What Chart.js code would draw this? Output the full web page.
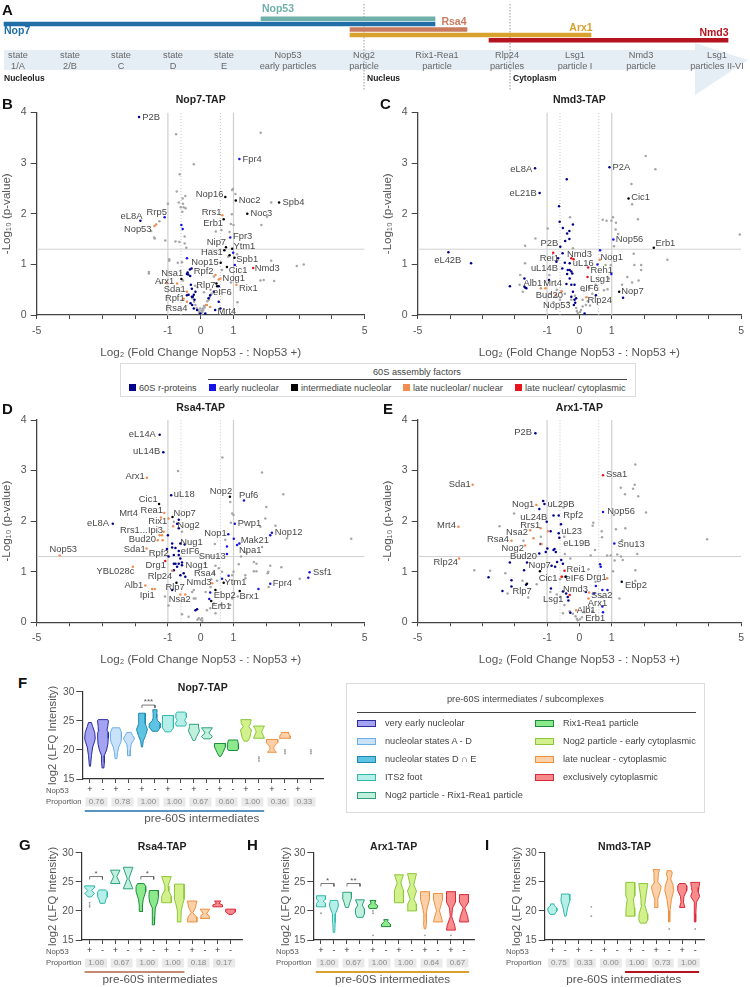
<!DOCTYPE html>
<html>
<head>
<meta charset="utf-8">
<title>pre-60S intermediates</title>
<script src="https://cdn.jsdelivr.net/npm/chart.js@4"></script>
<style>
  html, body { margin: 0; padding: 0; background: #fff; }
  #page { position: relative; width: 750px; height: 987px; overflow: hidden; font-family: "Liberation Sans", Arial, sans-serif; color: #444; }
  canvas { position: absolute; }
  .letter { position: absolute; font-size: 15px; font-weight: bold; color: #111; line-height: 15px; }
  .box { position: absolute; border: 1px solid #dcdcdc; box-sizing: border-box; }
  .rule { position: absolute; height: 1px; background: #444; }
  .txt { position: absolute; white-space: nowrap; line-height: 12px; }
  .swatch { position: absolute; box-sizing: border-box; }
</style>
</head>
<body>
<div id="page">
  <canvas id="chartA" width="750" height="100" style="left:0;top:0"></canvas>
  <canvas id="chartB" width="375" height="270" style="left:0;top:90px"></canvas>
  <canvas id="chartC" width="369" height="270" style="left:381px;top:90px"></canvas>
  <canvas id="chartD" width="375" height="270" style="left:0;top:397px"></canvas>
  <canvas id="chartE" width="369" height="270" style="left:381px;top:397px"></canvas>
  <canvas id="chartF" width="340" height="160" style="left:40px;top:670px"></canvas>
  <canvas id="chartG" width="220" height="157" style="left:40px;top:830px"></canvas>
  <canvas id="chartH" width="225" height="157" style="left:270px;top:830px"></canvas>
  <canvas id="chartI" width="250" height="157" style="left:500px;top:830px"></canvas>
</div>

<script>
// ---------- A: factors along the assembly path ----------
const factorNames = ['Nop53', 'Nop7', 'Rsa4', 'Arx1', 'Nmd3'];
const factorStart = [261, 4, 350, 350, 489];
const factorEnd = [435, 435, 467, 591, 728];
const factorColors = ['#6fb0ab', '#1f6ea8', '#c97b60', '#d9a12e', '#b3141f'];
const stageTop = ['state', 'state', 'state', 'state', 'state', 'Nop53', 'Nog2', 'Rix1-Rea1', 'Rlp24', 'Lsg1', 'Nmd3', 'Lsg1'];
const stageBottom = ['1/A', '2/B', 'C', 'D', 'E', 'early particles', 'particle', 'particle', 'particles', 'particle I', 'particle', 'particles II-VI'];
const stageAt = [18, 70, 121, 173, 224, 288, 364, 437, 507, 575, 641, 717];

// ---------- B: Nop7-TAP volcano ----------
const bNavy = [[-1.88,3.91],[-1.84,1.86],[-.42,.81],[-.38,.8],[-.4,.84],[-.32,.77],[-.3,.6],[-.27,.52],[-.16,.46],[-.37,.4],[-.27,.36],[-.42,.39],[-.21,.4],[-.31,.23],[-.26,.2],[-.21,.13],[-.11,.1],[-.01,.03],[.14,.03],[.24,.33],[.29,.39],[.4,.46],[.55,.57],[.55,.26],[.44,.1],[.6,.13],[-.33,.9],[-.28,.92],[-.24,.36],[-.19,.3]];
const bBlue = [[1.18,3.08],[-1.1,1.93],[.9,1.53],[.99,1.23],[1.04,.99],[-.59,1.78],[-.55,1.7],[-.42,1.12]];
const bBlack = [[2.39,2.22],[1.07,2.26],[1.42,2],[.75,2.33],[.7,1.89],[.77,1.34],[.72,1.28],[.96,1.31],[.88,1.18],[1.03,1.13],[.61,1.03],[.8,.95],[-.59,.71],[.48,.62],[.5,.57]];
const bOrange = [[.66,1.97],[-1.41,1.76],[-1.36,1.79],[-.72,.62],[-1.05,.63],[.45,.79],[.55,.7],[.6,.72],[1.09,.6],[-.42,.46],[.29,.16],[.19,.2],[-.52,.32],[-.42,.26]];
const bRed = [[1.6,.93]];
const bGray = [[1.83,3.6],[-.75,3.57],[-.21,2.98],[-.64,2.78],[.98,2.49],[.96,2.47],[-.73,2.44],[1.06,2.39],[-.47,2.35],[-.55,2.3],[-.67,2.22],[2.15,2.22],[-1,2.2],[-.54,2.2],[-.61,2.13],[-.52,2.13],[-.46,2.11],[-.56,2.04],[.95,1.99],[2.02,1.94],[-1.26,1.85],[.92,1.8],[1,1.78],[1.85,1.78],[-1.51,1.66],[.46,1.65],[.63,1.68],[.88,1.64],[-1.42,1.53],[-1.4,1.51],[-.49,1.55],[-1.08,1.47],[-.77,1.45],[-.65,1.44],[-.49,1.41],[-.44,1.33],[-.96,1.1],[-.96,1.07],[-.7,1.03],[-.57,1.04],[.84,1.15],[1.11,1.2],[2.15,1.07],[2.93,.97],[3.14,1],[-1.58,.85],[-1.58,.82],[1.82,.68],[1.92,.69],[2.24,.67],[1.12,.25],[-1.23,.63],[-.54,.68],[.65,.89],[.4,.76],[.92,.64],[-.05,.04],[.02,.02],[.05,.06],[-.08,.1],[.08,.1],[-.12,.14],[.12,.15],[-.16,.2],[.16,.2],[-.2,.26],[.2,.27],[-.04,.07],[.06,.13],[.25,.3],[.28,.36],[-.25,.33],[.33,.42],[.3,.5],[.1,.45],[-.1,.55],[-.17,.58],[.03,.09],[.1,.18],[-.02,.13]];
const bLabels = [['P2B',-1.51,3.91],['Fpr4',1.57,3.08],['Spb4',2.83,2.22],['Noc2',1.49,2.26],['Noc3',1.85,2],['Nop16',.27,2.39],['Rrs1',.33,2.03],['Erb1',.38,1.81],['Fpr3',1.28,1.55],['Nip7',.48,1.43],['Ytm1',1.33,1.35],['Has1',.34,1.23],['Spb1',1.42,1.09],['Nop15',.13,1.04],['Cic1',1.14,.88],['Nmd3',2.03,.93],['Rrp5',-1.34,2.03],['eL8A',-2.11,1.95],['Nop53',-1.92,1.7],['Nsa1',-.87,.82],['Rpf2',.09,.86],['Nog1',1.01,.72],['Arx1',-1.1,.66],['Rlp7',.16,.58],['Rix1',1.45,.53],['Sda1',-.79,.5],['eIF6',.66,.45],['Rpf1',-.79,.33],['Rsa4',-.74,.13],['Mrt4',.8,.07]];

// ---------- C: Nmd3-TAP volcano ----------
const cNavy = [[-1.37,2.9],[.93,2.92],[-1.23,2.41],[-.39,2.68],[-.63,2.15],[-.61,1.84],[-.2,1.79],[-.51,1.72],[-.31,1.66],[-.38,1.61],[-.44,1.46],[-.31,1.5],[-.59,1.35],[-4.05,1.24],[-3.35,1.02],[-2.15,.57],[-.52,1.22],[-.66,1.12],[-.71,1.05],[-.45,1.03],[-.3,1.02],[-.53,.92],[-.36,.89],[-.3,.89],[-.25,.86],[-.22,.82],[-.38,.81],[-.3,.72],[-1.7,.72],[-.94,.69],[-1.7,.56],[-1.64,.53],[-1.67,.54],[-.4,.61],[-.25,.6],[-.15,.6],[-.2,.46],[-.25,.36],[-.15,.3],[-.1,.33],[-.13,.24],[-.17,.2],[.51,.39],[1.35,.34],[.16,.03]];
const cBlue = [[.64,1.28],[1.05,1.49],[.56,1],[.99,.81]];
const cBlack = [[1.52,2.3],[2.3,1.33],[1.23,.46]];
const cOrange = [[.63,1.09],[-1.19,.53],[-1.05,.53],[-.55,.47],[.22,.35],[-.73,.4]];
const cRed = [[-.81,1.23],[-.25,1.12],[-.18,1.1],[.27,.94],[.25,.75]];
const cGray = [[2.05,3.14],[2.35,2.88],[1.61,2.59],[1.63,2.19],[1.04,1.93],[.72,1.88],[.84,1.86],[.99,1.86],[1.13,1.82],[-.29,1.93],[1.81,1.89],[-.98,1.71],[1.12,1.69],[1.2,1.6],[4.96,1.59],[-1.36,1.51],[-1.68,1.37],[1.07,1.36],[1.68,1.21],[2.72,1.09],[-1.68,1.02],[1.7,.99],[1.91,.99],[1.91,.89],[1.48,.75],[1.83,.68],[1.63,.64],[1.32,.6],[-1.83,.79],[-1.85,.6],[-1.75,.46],[-.93,.79],[.81,.99],[.97,.99],[.91,.72],[.76,.49],[.87,.51],[-.2,1.32],[-.9,.42],[-.7,.36],[-.6,.3],[-.45,.42],[-.35,.25],[-.25,.3],[-.05,.04],[.02,.06],[.05,.1],[-.08,.08],[.1,.17],[-.1,.14],[.2,.2],[.26,.27],[.33,.19],[.1,.3],[-.14,.38],[.4,.42],[.3,.55],[.15,.48],[-.7,.5],[-.8,.25],[.5,.6]];
const cLabels = [['eL8A',-1.8,2.88],['P2A',1.3,2.91],['eL21B',-1.74,2.41],['Cic1',1.89,2.32],['Nop56',1.55,1.49],['Erb1',2.66,1.41],['P2B',-.93,1.41],['eL42B',-4.07,1.07],['Nmd3',0,1.2],['Rei1',-.93,1.12],['Nog1',1,1.14],['uL16',.12,1.02],['uL14B',-1.08,.93],['Reh1',.69,.88],['Lsg1',.64,.7],['Alb1',-1.44,.63],['Mrt4',-.83,.63],['eIF6',.31,.52],['Nop7',1.64,.46],['Bud20',-.93,.38],['Rlp24',.63,.29],['Nop53',-.7,.18]];

// ---------- D: Rsa4-TAP volcano ----------
const dNavy = [[-1.25,3.71],[-1.14,3.36],[-.9,2.51],[-2.68,1.95],[-.67,2.03],[-.72,1.95],[-.67,1.86],[-1,1.72],[-.87,1.56],[-.62,1.56],[-.87,1.48],[-.77,1.47],[-.49,1.54],[-1.03,1.45],[-.67,1.41],[-.67,1.33],[-.98,1.3],[-.82,1.33],[-.62,1.26],[-.77,1.16],[-.82,1.16],[-.67,1.16],[-.57,1.18],[-.72,1.1],[-.57,1.13],[-.82,1.03],[-.52,.97],[-.62,.93],[-.47,.9],[-.87,.64],[-.16,.24],[-.11,.26]];
const dBlue = [[1.32,2.41],[1.04,1.95],[.84,1.74],[1.01,1.65],[1.18,1.56],[1.11,1.53],[.8,1.5],[.8,1.35],[2.17,1.77],[2.12,1.72],[3.32,.99],[3.28,.88],[2.12,.76],[1.76,.66],[.85,.92],[.65,.86],[.29,.59],[.26,.46]];
const dBlack = [[-1.27,2.34],[.89,2.48],[-.86,2.08],[.7,.78],[.45,.64],[1.19,.62],[.32,.42],[-.74,.78]];
const dOrange = [[-1.64,2.86],[-4.3,1.32],[-2.07,1.1],[-1.69,.73],[-1.48,.66],[-1.4,.66],[-1.11,2.16],[-1.21,2.07],[-.98,2.05],[-.84,1.9],[-1.13,1.79],[-1.25,1.72],[-1.18,1.72],[-1.31,1.62],[-1.16,1.62],[-1.65,1.46],[-.87,1.02],[.35,.77],[-.62,.55],[-.47,.55]];
const dRed = [[-1.08,1.21]];
const dGray = [[.66,3.26],[-.69,2.99],[1.87,2.96],[2.52,2.53],[2,2.28],[.96,2.15],[1,2.12],[1.97,2.05],[2.28,1.91],[.92,1.97],[.9,2.38],[1.82,1.89],[-.82,1.99],[-.57,1.79],[2.63,1.66],[4.59,1.65],[.43,1.55],[.75,1.63],[1.87,1.49],[1.38,1.38],[1.23,1.3],[1.62,1.19],[1.7,1.16],[1.16,1.15],[2.12,1.12],[2.46,1.09],[2.06,1],[2.04,.97],[1.62,1.01],[1.7,1.01],[1.36,.93],[1.36,.87],[3.02,.86],[2.07,.7],[.14,1.16],[.45,1.12],[.55,1.07],[.4,.97],[.65,1],[.96,.93],[1,1],[-.26,.6],[-.21,.64],[-.21,.47],[-.16,.47],[-.57,.16],[-.37,.11],[-.98,.33],[-1.09,.51],[-.06,.08],[0,.05],[.04,.08],[.19,.24],[.29,.28],[.45,.18],[.4,.37],[.9,.34],[.96,.47],[1.13,.51],[.62,.34],[.32,.85],[.5,.82],[-.1,.05],[.05,.03],[.15,.6],[.3,.7]];
const dLabels = [['eL14A',-1.78,3.71],['uL14B',-1.65,3.37],['Arx1',-2,2.89],['uL18',-.5,2.52],['Nop2',.62,2.59],['Puf6',1.46,2.51],['Cic1',-1.6,2.43],['Rea1',-1.49,2.21],['Mrt4',-2.2,2.16],['Nop7',-.49,2.15],['Rix1',-1.31,2],['eL8A',-3.13,1.96],['Nog2',-.37,1.92],['Pwp1',1.49,1.96],['Rrs1...',-2.04,1.81],['Ipi3',-1.38,1.82],['Nop1',.45,1.76],['Nop12',2.68,1.77],['Bud20',-1.78,1.63],['Mak21',1.65,1.61],['Nug1',-.28,1.57],['Npa1',1.51,1.43],['Sda1',-2.01,1.44],['Nop53',-4.19,1.44],['eIF6',-.32,1.41],['Rpf2',-1.28,1.36],['Snu13',.35,1.3],['Drg1',-1.37,1.13],['Nog1',-.12,1.13],['Ssf1',3.71,.99],['YBL028c',-2.6,1],['Rsa4',.13,.96],['Rlp24',-1.24,.9],['Nmd3',-.05,.78],['Ytm1',1.06,.78],['Fpr4',2.49,.76],['Alb1',-2.04,.73],['Rlp7',-.78,.69],['Ebp2',.73,.53],['Brx1',1.48,.51],['Ipi1',-1.63,.53],['Nsa2',-.64,.45],['Erb1',.63,.31]];

// ---------- E: Arx1-TAP volcano ----------
const eNavy = [[-1.36,3.74],[-1.12,2.4],[-1.08,2.34],[-1.24,2.24],[-.8,2.11],[-.64,2.11],[-1.01,1.99],[-.57,1.94],[-.89,1.8],[-.64,1.76],[-.62,1.67],[-1.2,1.55],[-.99,1.46],[-.77,1.45],[-.8,1.43],[-1.04,1.39],[-.73,1.39],[-1.24,1.36],[-2.15,1.18],[-1.62,1.18],[-1.71,1.03],[-.86,1.12],[-.75,1.1],[-.69,1.19],[-.56,1.23],[-.51,1.16],[-2.81,.89],[-2.1,.83],[-2.1,.71],[-2.38,.62],[-1.65,.74],[-.88,.67],[-.51,.61],[-.41,.57],[-.36,.5],[-.34,.43],[-.41,.9],[-.28,.19]];
const eBlue = [[.73,2.18],[1.08,1.56],[.64,1.15],[.66,1.1],[.51,.72],[.71,.64],[.87,.64],[.2,.6],[.46,.57],[.71,.31],[.73,.2]];
const eBlack = [[-1.22,1.01],[1.31,.8],[-.43,.9],[-1.62,.76]];
const eOrange = [[-3.3,2.72],[-3.74,1.89],[-3.72,1.26],[-1.33,2.32],[-1.2,1.86],[-1.52,1.82],[-1.42,1.66],[-2.1,1.61],[-1.68,1.52],[-.97,1.8],[-1.17,1.55],[-.56,.9],[.3,.59],[.28,.47],[-.1,.24],[.86,.87]];
const eRed = [[.73,2.91],[-.46,1.02],[-.54,.9],[-.3,.54]];
const eGray = [[1.73,3.12],[1.28,2.66],[1.71,2.72],[1.66,2.64],[1.41,2.53],[1.82,2.49],[2.06,2.17],[1.07,2.12],[-.49,2.27],[-2.02,2.15],[-2.47,1.9],[.43,1.97],[.41,1.91],[.69,1.8],[1.13,1.84],[1.42,1.86],[.7,1.68],[3.95,1.64],[1.32,1.62],[-1.19,1.69],[-.47,1.69],[-1.73,1.61],[.48,1.43],[1.79,1.35],[.35,1.32],[.86,1.32],[.97,1.32],[1.17,1.34],[1.29,1.3],[1.09,1.22],[1.34,1.23],[-.28,1.26],[-3.25,1.03],[-2.76,1.02],[1.73,1.03],[-2.29,.97],[.28,1.05],[1.04,1.01],[1.73,.82],[1.24,.47],[-2.22,.57],[-1.76,.82],[-1.32,.75],[-1.58,.49],[-.46,.34],[-.51,.18],[-.2,.17],[-.3,.22],[-.12,.12],[-.05,.04],[.02,.06],[.08,.1],[-.08,.07],[.15,.2],[.3,.3],[.4,.22],[-.6,.5],[-.7,.55],[-.6,.85],[-.45,1.35],[.5,.8],[.7,.5],[-.9,.6]];
const eLabels = [['P2B',-1.74,3.75],['Ssa1',1.15,2.93],['Sda1',-3.7,2.73],['Nog1',-1.74,2.34],['uL29B',-.57,2.34],['Nop56',1.29,2.2],['Rpf2',-.19,2.11],['uL24B',-1.41,2.08],['Mrt4',-4.11,1.91],['Rrs1',-1.52,1.91],['Nsa2',-1.93,1.77],['uL23',-.24,1.79],['Rsa4',-2.52,1.64],['eL19B',-.08,1.55],['Snu13',1.6,1.54],['Nog2',-2.06,1.47],['Bud20',-1.73,1.31],['Rlp24',-4.13,1.18],['Nop7',-1.23,1.13],['Rei1',-.1,1.05],['Cic1',-.97,.87],['eIF6',-.14,.86],['Drg1',.53,.89],['Ebp2',1.75,.72],['Nmd3',-.12,.66],['Rlp7',-1.77,.61],['Ssa2',.69,.53],['Lsg1',-.81,.46],['Arx1',.56,.38],['Alb1',.21,.23],['Erb1',.49,.07]];

const pCutoff = 1.3;
const foldSolid = [-1, 1];
const foldDotted = [-0.6, 0.6];
const volcanoXLabels = [-5, -1, 0, 1, 5];

// ---------- F-I: violins, each outline is [log2 LFQ, half width in category units] ----------
const signs = ['+', '-'];
const fGroups = [0, 1, 2, 3, 4, 5, 6, 7, 8];
const ghGroups = [3, 4, 5, 6, 7, 8];

const fShapes = [
  [[17.2,.03],[19,.08],[20.5,.15],[21.5,.26],[22,.29],[23,.26],[24,.15],[24.7,.08]],
  [[16.9,.05],[17.8,.07],[18.5,.08],[19,.07],[20,.2],[21,.27],[22,.29],[23,.29],[23.4,.22],[24,.26],[25,.3],[25.2,.26]],
  [[18.5,.05],[19.5,.08],[20.5,.15],[21.3,.27],[22,.3],[23,.3],[23.8,.2]],
  [[19,.07],[20,.08],[21,.12],[21.6,.25],[22,.3],[22.5,.2],[23,.12]],
  [[20.5,.03],[21.5,.07],[22.5,.2],[23.5,.3],[24.5,.18],[25.5,.18],[26.3,.18]],
  [[23.2,.15],[23.8,.28],[24.5,.32],[25,.15],[25.5,.1],[26.2,.1],[26.9,.12]],
  [[23.1,.15],[23.8,.3],[24.8,.3],[25.9,.3]],
  [[24.1,.25],[24.6,.3],[25.1,.2],[25.6,.3],[26.3,.28],[26.5,.2]],
  [[21.6,.05],[22.3,.15],[23.2,.3],[24,.25],[24.4,.25]],
  [[21.9,.18],[22.3,.3],[22.9,.1],[23.8,.3]],
  [[18.9,.05],[19.5,.15],[20.5,.3],[21.1,.3]],
  [[19.9,.25],[20.2,.3],[21,.3],[21.7,.25]],
  [[21.5,.1],[22,.2],[23.4,.3],[24,.15],[24.5,.25],[25.2,.28]],
  [[22,.3],[23.1,.15],[23.5,.2],[24.1,.3]],
  [[19.6,.25],[20,.12],[20.5,.1],[21.3,.32],[21.8,.3]],
  [[22,.3],[22.4,.28],[22.8,.2],[23,.2]],
  null,
  null
];
const fMedians = [22, 21.9, 21.7, 21.9, 23.6, 24.5, 24.8, 25.1, 23.2, 23.1, 20.7, 20.6, 23.4, 23.1, 21.3, 22.4, null, null];
const fOutliers = [[13,18.5],[13,18.1],[13,18.8],[15,20],[15,19.7],[15,19.4],[17,20],[17,19.7],[17,19.4]];
const fProportion = ['0.76', '0.78', '1.00', '1.00', '0.67', '0.60', '1.00', '0.36', '0.33'];
const fBrackets = [[4, 5, 27.7, '***']];

const gShapes = [
  [[22.4,.1],[23,.3],[23.5,.12],[24,.3],[24.3,.3]],
  [[21.3,.15],[21.9,.2],[22.4,.3],[23.3,.3],[23.6,.2]],
  [[24.7,.3],[25.9,.1],[27,.3]],
  [[23.8,.3],[25.5,.05],[27.5,.3]],
  [[19.9,.1],[21,.1],[22,.15],[23.3,.3],[24.2,.3],[24.7,.2]],
  [[17.6,.05],[19,.07],[20.5,.1],[21.5,.25],[22.5,.3],[23.5,.27]],
  [[21.4,.3],[22.5,.3],[23.4,.15],[24.3,.1],[25.9,.3]],
  [[18.1,.1],[20,.12],[21,.2],[22,.3],[24.6,.3]],
  [[18.1,.3],[19,.25],[19.7,.05],[20.5,.2],[21.7,.3]],
  [[18.7,.3],[19.2,.25],[19.5,.1],[20.3,.3]],
  [[20.7,.3],[21,.3],[21.3,.08],[21.7,.2]],
  [[19.4,.1],[19.8,.3],[20.3,.3]]
];
const gMedians = [23.6, 22.9, 25.9, 25.6, 23.3, 21.9, 23.4, 22, 19.7, 19.4, 21, 20];
const gOutliers = [[0,21.4],[0,21],[0,20.7]];
const gProportion = ['1.00', '0.67', '1.00', '1.00', '0.18', '0.17'];
const gBrackets = [[0, 1, 25.9, '*'], [4, 5, 25.9, '*']];

const hShapes = [
  [[20.7,.3],[21.3,.3],[21.7,.15],[22,.3],[22.6,.3]],
  [[16.3,.05],[18,.08],[19.5,.1],[20.5,.25],[21,.3],[21.8,.25]],
  [[20.6,.1],[21.5,.2],[22.2,.3],[23.2,.28]],
  [[18.9,.2],[19.5,.3],[20.3,.3],[21,.15],[21.9,.3]],
  [[20.4,.25],[20.9,.32],[21.3,.12],[21.8,.2]],
  [[17.3,.3],[17.7,.3],[18.2,.1],[18.5,.15]],
  [[21.4,.3],[22.3,.3],[23.5,.3],[24.8,.12],[26.2,.3]],
  [[20,.3],[21.2,.28],[22,.12],[23.4,.3],[24.5,.12],[26.4,.3]],
  [[16.9,.05],[18,.1],[19.5,.08],[20.5,.15],[22,.3],[23.3,.3]],
  [[18.1,.3],[18.7,.25],[20,.1],[21,.2],[22,.3],[23,.3]],
  [[16.7,.3],[17.5,.25],[19,.05],[20.5,.1],[21.5,.3],[23.3,.3]],
  [[18.1,.3],[19,.25],[20.5,.05],[21.5,.3],[22.8,.3]]
];
const hMedians = [21.7, 20.9, 22.2, 20.3, 21.1, 17.8, 23.5, 23.4, 22.2, 21.9, 22.2, 21];
const hOutliers = [[0,19.6],[4,20],[4,19.6],[4,15.8],[8,15.8],[10,15.8]];
const hProportion = ['1.00', '0.67', '1.00', '1.00', '0.64', '0.67'];
const hBrackets = [[0, 1, 24.7, '*'], [2, 3, 24.7, '**']];

const iShapes = [
  [[19.4,.15],[20,.3],[20.5,.3],[21,.1],[21.2,.12]],
  [[19.1,.05],[20.5,.15],[21.8,.3],[22.9,.25]],
  null,
  null,
  null,
  null,
  [[19.1,.3],[20.5,.28],[22,.2],[22.6,.3],[24.9,.3]],
  [[17.9,.2],[18.5,.3],[19.5,.28],[21,.1],[22,.15],[24.7,.3]],
  [[20.6,.12],[22,.1],[23.5,.28],[24.2,.32],[25,.1],[26.5,.15],[27.1,.22]],
  [[18.1,.03],[20,.05],[22,.15],[23.5,.3],[24.5,.25],[25.5,.1],[26.5,.2],[26.9,.15]],
  [[20.6,.18],[21.5,.08],[22.5,.12],[23.5,.3],[24.3,.3],[24.7,.2]],
  [[18.1,.03],[19.5,.04],[21.5,.08],[22.5,.3],[23.3,.2],[24,.25],[24.9,.3]]
];
const iMedians = [20.4, 22.2, null, null, null, null, 22.6, 22.1, 24.3, 24.3, 24, 23.8];
const iOutliers = [[3,20.7],[3,19.1],[9,16.9],[11,16.9]];
const iProportion = ['0.75', '0.33', '0.00', '1.00', '0.73', '1.00'];

const legendNames = ['very early nucleolar', 'nucleolar states A - D', 'nucleolar states D \u2229 E', 'ITS2 foot', 'Nog2 particle - Rix1-Rea1 particle', 'Rix1-Rea1 particle', 'Nog2 particle - early cytoplasmic', 'late nuclear - cytoplasmic', 'exclusively cytoplasmic'];
const groupFill = ['#a3a3f2', '#c9e2fa', '#5cc4e2', '#b5efe8', '#bff0dc', '#8cea8c', '#d2f08c', '#fcd0a8', '#f88c8c'];
const groupLine = ['#2b2b9c', '#6aaee8', '#1e88b0', '#30b8ac', '#2fa080', '#1e8c3c', '#8cc63c', '#ee9040', '#d8283c'];

const assemblyKeys = ['60S r-proteins', 'early nucleolar', 'intermediate nucleolar', 'late nucleolar/ nuclear', 'late nuclear/ cytoplasmic'];
const assemblyColors = ['#00008b', '#1414e6', '#000000', '#f28c50', '#e8141e'];

const FONT = '"Liberation Sans", Arial, sans-serif';
const GRAY_DOT = '#a6a6a6';
Chart.defaults.font.family = FONT;
Chart.defaults.animation = false;
Chart.defaults.responsive = false;
Chart.defaults.plugins.legend.display = false;
Chart.defaults.plugins.tooltip.enabled = false;

const toXY = rows => rows.map(r => ({ x: r[0], y: r[1] }));

// Chart A: floating bars + the stage arrow painted behind them
const timelinePlugin = {
  id: 'timeline',
  beforeDraw(chart) {
    const c = chart.ctx, x = chart.scales.x;
    c.save();
    c.fillStyle = '#e6eef5';
    c.beginPath();
    c.moveTo(x.getPixelForValue(4), 50);
    c.lineTo(x.getPixelForValue(695), 50);
    c.lineTo(x.getPixelForValue(695), 43);
    c.lineTo(x.getPixelForValue(748), 60);
    c.lineTo(x.getPixelForValue(695), 95);
    c.lineTo(x.getPixelForValue(695), 70);
    c.lineTo(x.getPixelForValue(4), 70);
    c.closePath();
    c.fill();
    c.strokeStyle = '#999';
    c.setLineDash([1.5, 1.5]);
    [364, 510].forEach(v => {
      c.beginPath();
      c.moveTo(x.getPixelForValue(v), 4);
      c.lineTo(x.getPixelForValue(v), 90);
      c.stroke();
    });
    c.restore();
  },
  afterDraw(chart) {
    const c = chart.ctx, x = chart.scales.x;
    c.save();
    c.textBaseline = 'middle';
    c.font = '9.2px ' + FONT;
    c.fillStyle = '#666';
    c.textAlign = 'center';
    stageAt.forEach((v, i) => {
      c.fillText(stageTop[i], x.getPixelForValue(v), 55);
      c.fillText(stageBottom[i], x.getPixelForValue(v), 66);
    });
    c.font = 'bold 8.5px ' + FONT;
    c.fillStyle = '#222';
    c.textAlign = 'left';
    c.fillText('Nucleolus', x.getPixelForValue(4), 79);
    c.fillText('Nucleus', x.getPixelForValue(367), 79);
    c.fillText('Cytoplasm', x.getPixelForValue(513), 79);
    c.font = 'bold 10.5px ' + FONT;
    const tags = [[278, 9], [4, 31], [454, 22], [581, 28], [714, 33]];
    factorNames.forEach((n, i) => {
      c.fillStyle = factorColors[i];
      c.textAlign = i === 1 ? 'left' : 'center';
      c.fillText(n, x.getPixelForValue(tags[i][0]), tags[i][1]);
    });
    c.restore();
  }
};

new Chart(document.getElementById('chartA'), {
  type: 'bar',
  data: {
    labels: factorNames,
    datasets: [{
      data: factorNames.map((n, i) => [factorStart[i], factorEnd[i]]),
      backgroundColor: factorColors,
      barThickness: 3.8
    }]
  },
  options: {
    indexAxis: 'y',
    layout: { padding: { top: 16, bottom: 57 } },
    scales: {
      x: { type: 'linear', min: 0, max: 750, display: false },
      y: { display: false }
    }
  },
  plugins: [timelinePlugin]
});

// Volcano labels sit at their own axis position, not on the point
const nameLabelsPlugin = {
  id: 'nameLabels',
  afterDatasetsDraw(chart, args, opts) {
    const c = chart.ctx, { x, y } = chart.scales;
    c.save();
    c.font = '9.4px ' + FONT;
    c.fillStyle = '#484848';
    c.textAlign = 'center';
    c.textBaseline = 'middle';
    opts.rows.forEach(r => c.fillText(r[0], x.getPixelForValue(r[1]), y.getPixelForValue(r[2])));
    c.restore();
  }
};

function guide(points, color, dash, width) {
  return { type: 'scatter', data: toXY(points), showLine: true, pointRadius: 0, borderColor: color, borderWidth: width, borderDash: dash, fill: false, order: 10 };
}

function volcano(id, title, navy, blue, black, orange, red, gray, labels, geo) {
  const groups = [[red, assemblyColors[4]], [orange, assemblyColors[3]], [black, assemblyColors[2]], [blue, assemblyColors[1]], [navy, assemblyColors[0]], [gray, GRAY_DOT]];
  const datasets = groups.map(g => ({ data: toXY(g[0]), backgroundColor: g[1], borderWidth: 0, pointRadius: 1.25, pointStyle: 'circle' }));
  datasets.push(guide([[-5, pCutoff], [5, pCutoff]], '#d0d0d0', [], 1));
  foldSolid.forEach(v => datasets.push(guide([[v, 0], [v, 4]], '#cfcfcf', [], 1.2)));
  foldDotted.forEach(v => datasets.push(guide([[v, 0], [v, 4]], '#c8c8c8', [1, 2], 1)));
  return new Chart(document.getElementById(id), {
    type: 'scatter',
    data: { datasets },
    options: {
      layout: { padding: { top: geo.top, right: geo.right, bottom: 0, left: 0 } },
      plugins: {
        title: { display: true, text: title, fullSize: false, color: '#222', font: { size: 10.5, weight: 'bold' }, padding: { top: 0, bottom: 6 } },
        nameLabels: { rows: labels }
      },
      scales: {
        x: {
          type: 'linear', min: -5, max: 5,
          afterFit: a => { a.height = geo.footer; },
          border: { color: '#444', width: 1.3 },
          grid: { drawOnChartArea: false, color: '#444', tickLength: 4, lineWidth: 1 },
          ticks: {
            stepSize: 1, autoSkip: false, maxRotation: 0, color: '#555', padding: 6, font: { size: 10.5 },
            callback: v => (volcanoXLabels.includes(v) ? String(v) : '')
          },
          title: { display: true, text: 'Log\u2082 (Fold Change Nop53 - : Nop53 +)', color: '#555', font: { size: 11.7 }, padding: { top: 2, bottom: 0 } }
        },
        y: {
          type: 'linear', min: 0, max: 4,
          afterFit: a => { a.width = 36.7; },
          border: { color: '#444', width: 1.3 },
          grid: { drawOnChartArea: false, color: '#444', tickLength: 6, lineWidth: 1 },
          ticks: { stepSize: 1, color: '#555', padding: 4, font: { size: 10.5 } },
          title: { display: true, text: '-Log\u2081\u2080 (p-value)', color: '#555', font: { size: 11.6 }, padding: 0 }
        }
      }
    },
    plugins: [nameLabelsPlugin]
  });
}

volcano('chartB', 'Nop7-TAP', bNavy, bBlue, bBlack, bOrange, bRed, bGray, bLabels, { top: 3.9, right: 10.3, footer: 45 });
volcano('chartC', 'Nmd3-TAP', cNavy, cBlue, cBlack, cOrange, cRed, cGray, cLabels, { top: 3.9, right: 4.3, footer: 45 });
volcano('chartD', 'Rsa4-TAP', dNavy, dBlue, dBlack, dOrange, dRed, dGray, dLabels, { top: 4.4, right: 10.3, footer: 44.7 });
volcano('chartE', 'Arx1-TAP', eNavy, eBlue, eBlack, eOrange, eRed, eGray, eLabels, { top: 4.4, right: 4.3, footer: 44.7 });

// half width of an outline at a given value, for the median bar
function widthAt(shape, v) {
  for (let i = 1; i < shape.length; i++) {
    const a = shape[i - 1], b = shape[i];
    if (v <= b[0]) return a[1] + (b[1] - a[1]) * (v - a[0]) / (b[0] - a[0]);
  }
  return shape[shape.length - 1][1];
}

// Row captions, proportion chips, stars and the coloured rule below each violin panel
const violinFooter = {
  id: 'violinFooter',
  afterDraw(chart, args, o) {
    const c = chart.ctx, { x, y } = chart.scales;
    const bottom = chart.chartArea.bottom;
    c.save();
    c.textBaseline = 'middle';
    c.textAlign = 'left';
    c.font = '7.7px ' + FONT;
    c.fillStyle = '#555';
    c.fillText('Nop53', 6, bottom + 12);
    c.fillText('Proportion', 6, bottom + 23);
    c.textAlign = 'center';
    o.proportion.forEach((p, i) => {
      const px = x.getPixelForValue(i * 2 + 0.5);
      c.fillStyle = '#e9e9e9';
      c.fillRect(px - 11, bottom + 18.5, 22, 9);
      c.fillStyle = '#8a8a8a';
      c.font = '8px ' + FONT;
      c.fillText(p, px, bottom + 23);
    });
    c.fillStyle = o.ruleColor;
    c.fillRect(x.getPixelForValue(o.ruleFrom), bottom + 31, x.getPixelForValue(o.ruleTo) - x.getPixelForValue(o.ruleFrom), 2);
    c.fillStyle = '#555';
    c.font = '11.7px ' + FONT;
    c.fillText('pre-60S intermediates', x.getPixelForValue(o.captionAt), bottom + 40);
    c.font = '8px ' + FONT;
    o.brackets.forEach(b => c.fillText(b[3], x.getPixelForValue((b[0] + b[1]) / 2), y.getPixelForValue(b[2]) - 3));
    c.restore();
  }
};

function violins(id, title, shapes, medians, outliers, groups, proportion, brackets, geo, rule) {
  const datasets = [];
  shapes.forEach((shape, i) => {
    if (!shape) return;
    const g = groups[Math.floor(i / 2)];
    const outline = shape.map(r => ({ x: i - r[1] * geo.spread, y: r[0] }))
      .concat(shape.slice().reverse().map(r => ({ x: i + r[1] * geo.spread, y: r[0] })));
    outline.push(outline[0]);
    datasets.push({ type: 'scatter', data: outline, showLine: true, fill: 'shape', pointRadius: 0, tension: 0, borderColor: groupLine[g], backgroundColor: groupFill[g], borderWidth: 1 });
    const hw = widthAt(shape, medians[i]) * geo.spread;
    datasets.push({ type: 'scatter', data: [{ x: i - hw, y: medians[i] }, { x: i + hw, y: medians[i] }], showLine: true, fill: false, pointRadius: 0, borderColor: '#444', borderWidth: 0.9 });
  });
  datasets.push({ type: 'scatter', data: toXY(outliers), pointRadius: 0.9, backgroundColor: '#999', borderWidth: 0 });
  brackets.forEach(b => {
    datasets.push({ type: 'scatter', data: [{ x: b[0], y: b[2] - 0.5 }, { x: b[0], y: b[2] }, { x: b[1], y: b[2] }, { x: b[1], y: b[2] - 0.5 }], showLine: true, fill: false, pointRadius: 0, borderColor: '#555', borderWidth: 0.8 });
  });
  return new Chart(document.getElementById(id), {
    type: 'scatter',
    data: { datasets },
    options: {
      layout: { padding: { top: geo.top - 12.6 + geo.drop, right: geo.right, bottom: 0, left: 0 } },
      plugins: {
        title: { display: true, text: title, fullSize: false, color: '#222', font: { size: 10.5, weight: 'bold' }, padding: { top: 0, bottom: -geo.drop } },
        violinFooter: { proportion, brackets, ruleColor: rule.color, ruleFrom: rule.from, ruleTo: rule.to, captionAt: rule.caption }
      },
      scales: {
        x: {
          type: 'linear', min: -geo.lead, max: shapes.length - 1 + geo.tail,
          afterFit: a => { a.height = geo.footer; },
          border: { color: '#333', width: 1.2 },
          grid: { drawOnChartArea: false, color: '#333', tickLength: 4, lineWidth: 0.9 },
          ticks: {
            stepSize: 1, includeBounds: false, autoSkip: false, maxRotation: 0, color: '#333', padding: 1, font: { size: 9 },
            callback: v => signs[v % 2]
          }
        },
        y: {
          type: 'linear', min: 15, max: 30,
          afterFit: a => { a.width = geo.axis; },
          border: { color: '#333', width: 1.2 },
          grid: { drawOnChartArea: false, color: '#333', tickLength: 6, lineWidth: 0.9 },
          ticks: { stepSize: 5, color: '#555', padding: 2, font: { size: 10.2 } },
          title: { display: true, text: 'log2 (LFQ Intensity)', color: '#555', font: { size: 11.3 }, padding: { top: geo.titleGap, bottom: 0 } }
        }
      }
    },
    plugins: [violinFooter]
  });
}

violins('chartF', 'Nop7-TAP', fShapes, fMedians, fOutliers, fGroups, fProportion, fBrackets,
  { top: 21.7, right: 56.7, footer: 51, axis: 42.3, lead: 0.59, tail: 0.95, spread: 1.4, drop: 2.3, titleGap: 6.5 }, { color: '#5b93c0', from: -0.4, to: 13.4, caption: 8.6 });
violins('chartG', 'Rsa4-TAP', gShapes, gMedians, gOutliers, ghGroups, gProportion, gBrackets,
  { top: 22.7, right: 17.3, footer: 47, axis: 41.7, lead: 0.62, tail: 0.95, spread: 1.25, drop: 1, titleGap: 6.5 }, { color: '#c48a72', from: -0.4, to: 7.4, caption: 5.5 });
violins('chartH', 'Arx1-TAP', hShapes, hMedians, hOutliers, ghGroups, hProportion, hBrackets,
  { top: 22.7, right: 21, footer: 47, axis: 43.3, lead: 0.59, tail: 0.77, spread: 1.15, drop: 1, titleGap: 9.5 }, { color: '#d9a12e', from: -0.4, to: 11.4, caption: 5.5 });
violins('chartI', 'Nmd3-TAP', iShapes, iMedians, iOutliers, ghGroups, iProportion, [],
  { top: 22.7, right: 45.7, footer: 47, axis: 44.7, lead: 0.59, tail: 0.7, spread: 1.15, drop: 1, titleGap: 10.5 }, { color: '#b3141f', from: 5.6, to: 11.3, caption: 5.5 });

// ---------- page furniture: panel letters and the two key boxes ----------
const page = document.getElementById('page');
function put(cls, css, text) {
  const el = document.createElement('div');
  el.className = cls;
  el.style.cssText = css;
  if (text) el.textContent = text;
  page.appendChild(el);
}
const panelLetters = [['A', 2, 2], ['B', 2, 96], ['C', 380, 96], ['D', 2, 401], ['E', 383, 401], ['F', 18, 675], ['G', 19, 837], ['H', 247, 837], ['I', 485, 837]];
panelLetters.forEach(l => put('letter', `left:${l[1]}px;top:${l[2]}px`, l[0]));

const assemblyKeyAt = [129, 209, 291, 403, 515];
put('box', 'left:120px;top:363px;width:516px;height:34px');
put('txt', 'left:373px;top:366px;font-size:9.2px', '60S assembly factors');
put('rule', 'left:208px;top:379px;width:419px');
assemblyKeys.forEach((name, i) => {
  put('swatch', `left:${assemblyKeyAt[i]}px;top:384px;width:7px;height:7px;background:${assemblyColors[i]}`);
  put('txt', `left:${assemblyKeyAt[i] + 10}px;top:382px;font-size:9.2px`, name);
});

put('box', 'left:346px;top:683px;width:359px;height:130px');
put('txt', 'left:447px;top:693px;font-size:9.2px', 'pre-60S intermediates / subcomplexes');
put('rule', 'left:357px;top:712px;width:339px');
legendNames.forEach((name, i) => {
  const left = i < 5 ? 357 : 535;
  const row = i < 5 ? i : i - 5;
  const top = 723 + row * 18;
  put('swatch', `left:${left}px;top:${top - 3}px;width:19px;height:7px;background:${groupFill[i]};border:1.5px solid ${groupLine[i]}`);
  put('txt', `left:${left + 28}px;top:${top - 6}px;font-size:9.2px`, name);
});
</script>
</body>
</html>
